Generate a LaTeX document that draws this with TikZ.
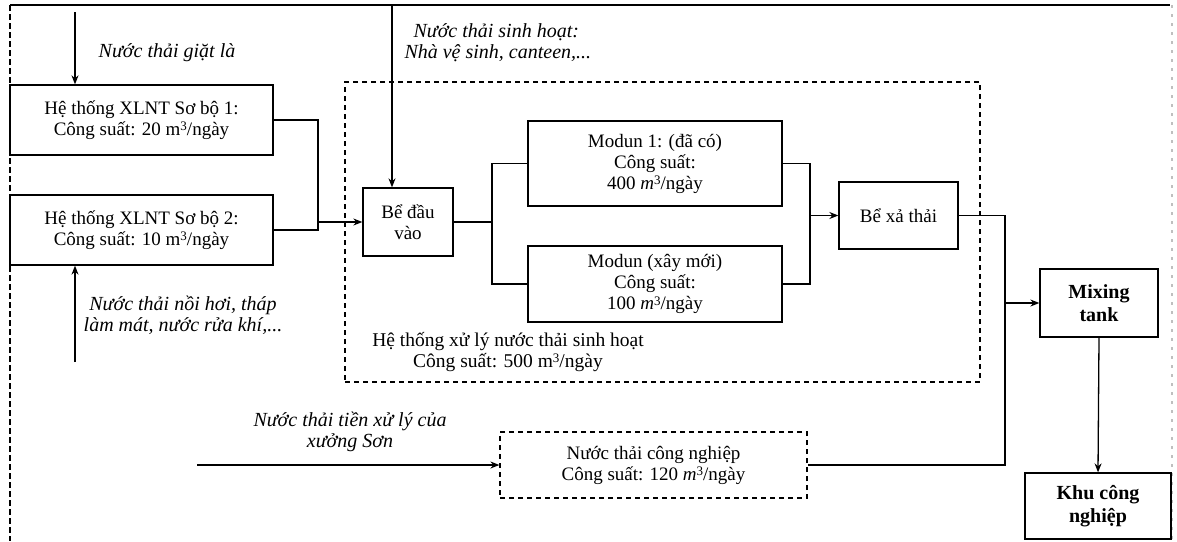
\documentclass[tikz,border=0pt]{standalone}
\usepackage{fontspec}
\setmainfont{Liberation Serif}
\usetikzlibrary{arrows.meta}
\newcommand{\cubx}{\raisebox{0.5ex}{\fontsize{13}{13}\selectfont 3}}
\begin{document}
\begin{tikzpicture}[x=1pt,y=-1pt,
  every node/.style={font=\fontsize{19}{21}\selectfont},
  box/.style={draw, line width=1.3pt, inner sep=0pt, align=center},
  dbox/.style={box, line width=1.2pt, dash pattern=on 5pt off 4pt},
  lbl/.style={align=center, font=\fontsize{20}{21}\selectfont\itshape},
  bld/.style={font=\fontsize{20}{23}\selectfont\bfseries},
  line/.style={line width=1.3pt},
  arr/.style={line width=1.3pt, -{Stealth[length=9pt,width=7pt]}},
  frame/.style={line width=1.1pt}]
\useasboundingbox (0,0) rectangle (1177,541);
% frame
\draw[frame] (10,5) -- (1170,5);
\draw[frame, dash pattern=on 6pt off 3pt] (10,5) -- (10,541);
\draw[frame, gray!50, dash pattern=on 3pt off 6pt] (1172,5) -- (1172,541);
% nodes
\node[box, minimum width=263pt, minimum height=70pt] (sb1) at (141.5,120) {Hệ thống XLNT Sơ bộ 1:\\Công suất: 20 m\cubx/ngày};
\node[box, minimum width=263pt, minimum height=70pt] (sb2) at (141.5,230) {Hệ thống XLNT Sơ bộ 2:\\Công suất: 10 m\cubx/ngày};
\node[box, minimum width=90pt, minimum height=68pt] (bdv) at (408,222) {Bể đầu\\vào};
\node[box, minimum width=254pt, minimum height=85pt] (m1) at (655,163.5) {Modun 1: (đã có)\\Công suất:\\400 \textit{m}\cubx/ngày};
\node[box, minimum width=254pt, minimum height=76pt] (m2) at (655,284) {Modun (xây mới)\\Công suất:\\100 \textit{m}\cubx/ngày};
\node[box, minimum width=119pt, minimum height=67pt] (bxt) at (898.5,215.5) {Bể xả thải};
\node[box, bld, minimum width=118pt, minimum height=68pt] (mix) at (1099,303) {Mixing\\tank};
\node[box, bld, minimum width=146pt, minimum height=66pt] (kcn) at (1098,506) {Khu công\\nghiệp};
\node[dbox, minimum width=307pt, minimum height=66pt] (cn) at (653.5,465) {Nước thải công nghiệp\\Công suất: 120 \textit{m}\cubx/ngày};
\node[dbox, minimum width=635pt, minimum height=300pt] (sh) at (662.5,232) {};
% labels
\node[lbl] (l1) at (167,53) {Nước thải giặt là};
\node[lbl] (l2) at (183,315) {Nước thải nồi hơi, tháp\\làm mát, nước rửa khí,...};
\node[lbl, align=left, anchor=west] (l3) at (401,43) {\hspace*{9pt}Nước thải sinh hoạt:\\Nhà vệ sinh, canteen,...};
\node[align=center, font=\fontsize{19.5}{21}\selectfont] (l4) at (508,352) {Hệ thống xử lý nước thải sinh hoạt\\Công suất: 500 m\cubx/ngày};
\node[lbl] (l5) at (350,432) {Nước thải tiền xử lý của\\xưởng Sơn};
% coordinates
\coordinate (t1) at (75,12);
\coordinate (t2) at (75,362);
\coordinate (t3) at (392,5);
\coordinate (t4) at (197,465);
\coordinate (j1) at (318,222);
\coordinate (j2) at (492,222);
\coordinate (j3) at (810,215.5);
\coordinate (j4) at (1005,303);
% connectors
\draw[arr] (t1) -- (t1 |- sb1.north);
\draw[arr] (t2) -- (t2 |- sb2.south);
\draw[arr] (t3) -- (t3 |- bdv.north);
\draw[line] (sb1.east) -| (318,230) -- (sb2.east);
\draw[arr] (j1) -- (bdv.west);
\draw[line] (bdv.east) -- (j2);
\draw[line] (m1.west) -| (j2) |- (m2.west);
\draw[line] (m1.east) -| (j3) |- (m2.east);
\draw[arr] (j3) -- (bxt.west);
\draw[line] (bxt.east) -| (j4) |- (cn.east);
\draw[arr] (j4) -- (mix.west);
\draw[arr] (mix.south) -- (kcn.north);
\draw[arr] (t4) -- (cn.west);
\end{tikzpicture}
\end{document}
